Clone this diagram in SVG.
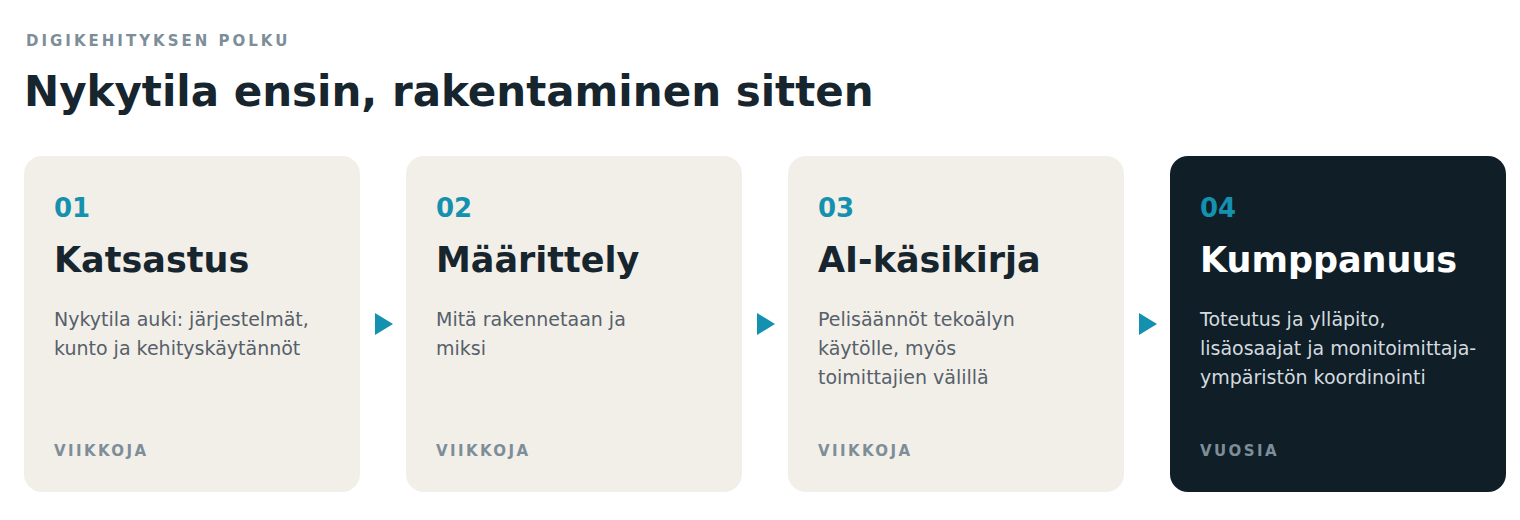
<svg xmlns="http://www.w3.org/2000/svg" width="1520" height="520" viewBox="0 0 1520 520">
<style>
text{font-family:"DejaVu Sans","Liberation Sans",sans-serif}
.eyebrow{font-size:15px;font-weight:bold;letter-spacing:3px;fill:#7d8e99}
.h1{font-size:42px;font-weight:bold;fill:#17252e}
.card{fill:#f2efe8}
.dark{fill:#0f1e27}
.num{font-size:26px;font-weight:bold;fill:#1591b0}
.title{font-size:35px;font-weight:bold;fill:#17252e}
.title.inv{fill:#ffffff}
.desc{font-size:19px;fill:#56606a}
.desc.inv{fill:#d3dadf}
.foot{font-size:15px;font-weight:bold;letter-spacing:2.4px;fill:#7d8e99}
.arrow{fill:#1591b0}
</style>
<rect width="1520" height="520" fill="#ffffff"/>
<text class="eyebrow" x="26" y="46">DIGIKEHITYKSEN POLKU</text>
<text class="h1" x="24" y="106">Nykytila ensin, rakentaminen sitten</text>

<g id="node-1">
<rect class="card" x="24" y="156" width="336" height="336" rx="18"/>
<text class="num" x="54" y="217">01</text>
<text class="title" x="54" y="272">Katsastus</text>
<text class="desc" x="54" y="326">Nykytila auki: järjestelmät,</text>
<text class="desc" x="54" y="355">kunto ja kehityskäytännöt</text>
<text class="foot" x="54" y="456">VIIKKOJA</text>
</g>
<g id="node-2">
<rect class="card" x="406" y="156" width="336" height="336" rx="18"/>
<text class="num" x="436" y="217">02</text>
<text class="title" x="436" y="272">Määrittely</text>
<text class="desc" x="436" y="326">Mitä rakennetaan ja</text>
<text class="desc" x="436" y="355">miksi</text>
<text class="foot" x="436" y="456">VIIKKOJA</text>
</g>
<g id="node-3">
<rect class="card" x="788" y="156" width="336" height="336" rx="18"/>
<text class="num" x="818" y="217">03</text>
<text class="title" x="818" y="272">AI-käsikirja</text>
<text class="desc" x="818" y="326">Pelisäännöt tekoälyn</text>
<text class="desc" x="818" y="355">käytölle, myös</text>
<text class="desc" x="818" y="384">toimittajien välillä</text>
<text class="foot" x="818" y="456">VIIKKOJA</text>
</g>
<g id="node-4">
<rect class="dark" x="1170" y="156" width="336" height="336" rx="18"/>
<text class="num" x="1200" y="217">04</text>
<text class="title inv" x="1200" y="272">Kumppanuus</text>
<text class="desc inv" x="1200" y="326">Toteutus ja ylläpito,</text>
<text class="desc inv" x="1200" y="355">lisäosaajat ja monitoimittaja-</text>
<text class="desc inv" x="1200" y="384">ympäristön koordinointi</text>
<text class="foot" x="1200" y="456">VUOSIA</text>
</g>

<g id="connectors">
<polygon class="arrow" points="375,313 393,324 375,335"/>
<polygon class="arrow" points="757,313 775,324 757,335"/>
<polygon class="arrow" points="1139,313 1157,324 1139,335"/>
</g>
</svg>
